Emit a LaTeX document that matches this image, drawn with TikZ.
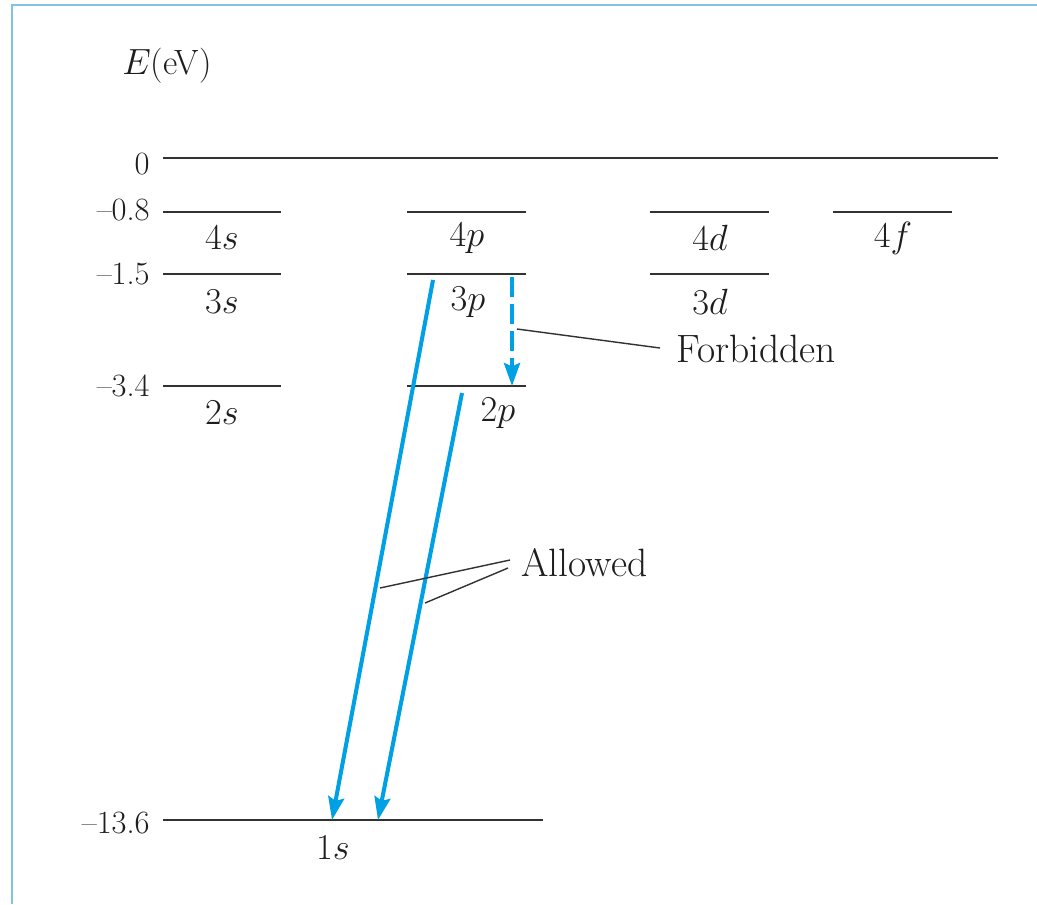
\documentclass[tikz,border=0pt]{standalone}
\usetikzlibrary{arrows.meta}
\definecolor{arrowblue}{RGB}{0,160,228}
\definecolor{framebl}{RGB}{128,196,228}
\definecolor{lvl}{RGB}{50,50,50}
\definecolor{txt}{RGB}{30,30,30}
\begin{document}
\begin{tikzpicture}[x=0.02cm,y=-0.02cm,
  level/.style={draw=lvl,line width=1.1pt},
  val/.style={anchor=east,inner sep=0pt,text=txt,font=\fontsize{18.5}{22}\selectfont},
  lab/.style={inner sep=0pt,text=txt,font=\fontsize{20}{24}\selectfont},
  word/.style={inner sep=0pt,text=txt,anchor=west,font=\fontsize{22.5}{27}\selectfont},
  trans/.style={draw=arrowblue,line width=2.3pt,-{Stealth[length=0.46cm,width=0.32cm,inset=0.07cm]}},
  leader/.style={draw=lvl,line width=0.8pt}]
\useasboundingbox (0,0) rectangle (1037,904);
\fill[white] (0,0) rectangle (1037,904);
% frame
\draw[framebl,line width=1.5pt] (12,904) -- (12,5) -- (1037,5);
% axis label
\node[lab] (elab) at (167,66) {$E$(eV)};
% energy values
\node[val] (v0) at (150,164) {0};
\node[val] (v1) at (150,210) {--0.8};
\node[val] (v2) at (150,274) {--1.5};
\node[val] (v3) at (150,386) {--3.4};
\node[val] (v4) at (150,823) {--13.6};
% level end points
\coordinate (z0) at (163,158); \coordinate (z1) at (998,158);
\coordinate (s4a) at (163,212); \coordinate (s4b) at (281,212);
\coordinate (p4a) at (407,212); \coordinate (p4b) at (526,212);
\coordinate (d4a) at (650,212); \coordinate (d4b) at (769,212);
\coordinate (f4a) at (833,212); \coordinate (f4b) at (952,212);
\coordinate (s3a) at (163,274); \coordinate (s3b) at (281,274);
\coordinate (p3a) at (407,274); \coordinate (p3b) at (526,274);
\coordinate (d3a) at (650,274); \coordinate (d3b) at (769,274);
\coordinate (s2a) at (163,386); \coordinate (s2b) at (281,386);
\coordinate (p2a) at (407,386); \coordinate (p2b) at (526,386);
\coordinate (s1a) at (163,820); \coordinate (s1b) at (543,820);
\draw[level] (z0) -- (z1);
\draw[level] (s4a) -- (s4b);
\draw[level] (p4a) -- (p4b);
\draw[level] (d4a) -- (d4b);
\draw[level] (f4a) -- (f4b);
\draw[level] (s3a) -- (s3b);
\draw[level] (p3a) -- (p3b);
\draw[level] (d3a) -- (d3b);
\draw[level] (s2a) -- (s2b);
\draw[level] (p2a) -- (p2b);
\draw[level] (s1a) -- (s1b);
% level names
\node[lab] (n4s) at (222,238) {$4s$};
\node[lab] (n4p) at (467,238) {$4p$};
\node[lab] (n4d) at (710,238) {$4d$};
\node[lab] (n4f) at (893,238) {$4f$};
\node[lab] (n3s) at (222,302) {$3s$};
\node[lab] (n3p) at (468,302) {$3p$};
\node[lab] (n3d) at (710,302) {$3d$};
\node[lab] (n2s) at (222,413) {$2s$};
\node[lab] (n2p) at (498,413) {$2p$};
\node[lab] (n1s) at (333,848) {$1s$};
% transitions
\coordinate (a1s) at (433,280); \coordinate (a1e) at (332,820);
\coordinate (a2s) at (462,393); \coordinate (a2e) at (378,820);
\coordinate (fs) at (512,277); \coordinate (fe) at (512,386);
\draw[trans] (a1s) -- (a1e);
\draw[trans] (a2s) -- (a2e);
\draw[trans,dash pattern=on 0.4cm off 0.14cm] (fs) -- (fe);
% annotations
\node[word] (forb) at (676,349) {Forbidden};
\node[word] (allw) at (521,563) {Allowed};
\coordinate (fl) at (517,329);
\coordinate (fr) at (660,348);
\coordinate (al1) at (380,588);
\coordinate (al2) at (425,603);
\coordinate (ar1) at (510,560);
\coordinate (ar2) at (508,568);
\draw[leader] (fl) -- (fr);
\draw[leader] (al1) -- (ar1);
\draw[leader] (al2) -- (ar2);
\end{tikzpicture}
\end{document}
